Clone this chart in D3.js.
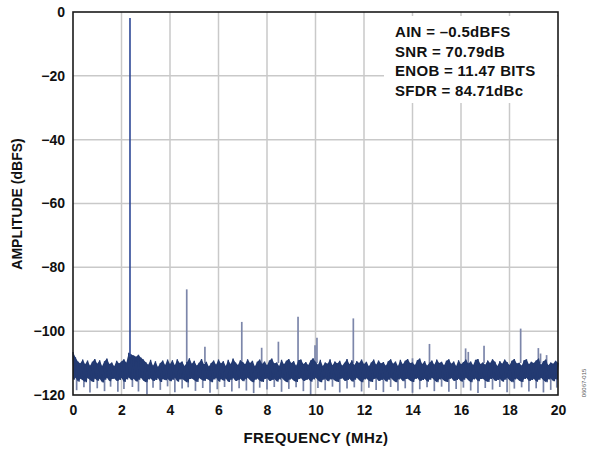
<!DOCTYPE html>
<html><head><meta charset="utf-8">
<script src="https://cdn.jsdelivr.net/npm/d3@7"></script>
<style>body{margin:0;background:#fff}svg{display:block}</style>
</head><body>
<svg id="c" width="590" height="455"></svg>
<script>
// ---------- data ----------
const xTicks = [0, 2, 4, 6, 8, 10, 12, 14, 16, 18, 20];
const yTicks = [-120, -100, -80, -60, -40, -20, 0];
const noiseStep = 0.1; // MHz between noise samples
const noiseTop = [
-106.5,-108.2,-109.5,-110.1,-108.9,-110.4,-109.2,-110.8,-109.6,-108.7,
-110.2,-109.1,-110.9,-109.4,-108.6,-110.3,-109.8,-111.0,-109.3,-110.1,
-109.5,-108.8,-109.9,-106.8,-107.3,-107.6,-108.0,-107.4,-108.3,-108.9,
-109.7,-110.5,-109.0,-110.8,-109.4,-111.2,-110.0,-109.2,-110.6,-108.9,
-110.3,-109.1,-110.7,-108.8,-110.0,-109.5,-110.9,-109.7,-108.5,-110.2,
-109.3,-110.8,-109.9,-108.7,-110.4,-109.6,-111.1,-110.0,-109.2,-110.5,
-108.9,-110.1,-109.4,-110.9,-109.0,-110.3,-108.6,-109.8,-110.6,-109.1,
-109.7,-110.4,-108.8,-110.0,-109.3,-111.0,-109.6,-108.9,-110.2,-109.5,
-110.7,-109.2,-108.6,-110.1,-109.8,-110.9,-109.0,-110.4,-109.3,-108.7,
-110.0,-109.4,-110.8,-109.1,-108.9,-110.3,-109.7,-110.6,-109.2,-108.5,
-109.6,-110.5,-109.0,-110.9,-109.8,-110.2,-108.8,-110.7,-109.5,-110.1,
-109.3,-110.8,-109.9,-108.7,-110.4,-109.1,-110.6,-109.4,-110.0,-108.9,
-110.3,-109.6,-111.0,-109.8,-108.9,-110.5,-109.2,-110.1,-109.7,-110.8,
-109.4,-108.8,-110.2,-109.5,-110.9,-109.0,-110.4,-109.3,-108.7,-110.0,
-109.8,-110.6,-109.1,-108.6,-110.3,-109.4,-110.8,-109.9,-109.2,-110.5,
-108.9,-110.0,-109.6,-110.7,-109.3,-108.8,-110.2,-109.5,-110.9,-109.1,
-110.4,-109.7,-108.9,-110.1,-109.5,-110.6,-109.0,-108.7,-110.3,-109.8,
-110.5,-109.2,-110.0,-108.8,-109.6,-110.9,-109.4,-110.2,-108.9,-109.7,
-110.6,-109.3,-108.7,-110.1,-109.9,-110.8,-109.1,-108.8,-110.4,-109.6,
-110.0,-109.2,-108.6,-110.5,-109.4,-108.9,-110.7,-109.8,-110.2,-109.3,
-109.9];
const noiseBottom = [
-115.2,-114.6,-115.8,-114.9,-115.4,-116.0,-114.7,-115.3,-115.9,-114.8,
-115.5,-114.9,-116.1,-115.2,-114.6,-115.7,-115.0,-114.8,-115.6,-115.3,
-114.7,-115.9,-115.1,-114.5,-115.4,-114.9,-115.8,-115.2,-114.6,-115.5,
-116.0,-115.1,-114.8,-115.6,-115.3,-114.7,-115.9,-115.0,-115.4,-114.9,
-115.7,-115.2,-114.6,-115.8,-115.1,-114.9,-115.5,-116.1,-115.0,-114.8,
-115.4,-115.9,-114.7,-115.2,-115.6,-114.9,-115.3,-116.0,-115.1,-114.6,
-115.8,-115.0,-115.5,-114.8,-115.9,-115.2,-114.7,-115.6,-115.3,-114.9,
-115.7,-115.1,-114.6,-115.4,-116.0,-115.2,-114.8,-115.5,-115.9,-115.0,
-114.7,-115.6,-115.3,-114.9,-115.8,-115.1,-114.6,-115.4,-116.0,-115.2,
-114.8,-115.5,-115.9,-115.0,-114.7,-115.6,-115.3,-114.9,-115.8,-115.1,
-114.6,-115.4,-116.0,-115.2,-114.8,-115.7,-115.1,-114.9,-115.5,-115.9,
-115.0,-114.7,-115.6,-115.3,-114.9,-115.8,-115.2,-114.6,-115.4,-116.0,
-115.1,-114.8,-115.5,-115.9,-115.0,-114.7,-115.6,-115.3,-114.9,-115.8,
-115.2,-114.6,-115.4,-116.0,-115.1,-114.8,-115.7,-115.0,-114.9,-115.5,
-115.9,-115.0,-114.7,-115.6,-115.3,-114.9,-115.8,-115.2,-114.6,-115.4,
-116.0,-115.1,-114.8,-115.5,-115.9,-115.0,-114.7,-115.6,-115.3,-114.9,
-115.8,-115.2,-114.6,-115.4,-116.0,-115.1,-114.8,-115.7,-115.0,-114.9,
-115.5,-115.9,-115.0,-114.7,-115.6,-115.3,-114.9,-115.8,-115.2,-114.6,
-115.4,-116.0,-115.1,-114.8,-115.5,-115.9,-115.0,-114.7,-115.6,-115.3,
-114.9,-115.8,-115.2,-114.6,-115.4,-116.0,-115.1,-114.8,-115.7,-115.0,
-115.3];
const dipFreq = [0.15,0.45,0.7,1.0,1.3,1.55,1.85,2.1,2.45,2.7,3.05,3.3,3.6,3.9,4.2,4.5,4.75,5.05,5.35,5.65,5.95,6.25,6.55,6.85,7.15,7.45,7.7,8.0,8.3,8.6,8.9,9.2,9.5,9.8,10.1,10.4,10.7,11.0,11.3,11.6,11.9,12.2,12.5,12.8,13.1,13.4,13.7,14.0,14.3,14.6,14.9,15.2,15.5,15.8,16.1,16.4,16.7,17.0,17.3,17.6,17.9,18.2,18.5,18.8,19.1,19.4,19.7,19.95];
const dipLevel = [-118.5,-117.6,-119.2,-117.9,-118.8,-117.4,-119.0,-118.1,-117.5,-118.9,-119.8,-117.7,-118.4,-117.3,-119.1,-118.0,-117.6,-118.7,-117.8,-119.3,-118.2,-117.5,-118.9,-117.9,-118.6,-119.4,-117.7,-118.3,-117.5,-119.0,-118.1,-117.6,-118.8,-119.9,-117.8,-118.5,-117.4,-119.2,-118.0,-117.6,-118.9,-117.7,-118.4,-119.1,-117.5,-118.7,-117.9,-119.3,-118.2,-117.6,-118.8,-117.4,-119.0,-118.1,-117.7,-118.6,-119.4,-117.8,-118.3,-117.5,-119.1,-118.0,-117.6,-118.9,-117.9,-119.2,-118.4,-117.7];
const spurFreq  = [4.69, 5.44, 6.96, 7.78, 8.47, 9.28, 9.98, 10.06, 11.56, 14.0, 14.70, 16.19, 16.30, 16.95, 18.46, 19.19, 19.28, 19.53];
const spurLevel = [-86.9,-104.9,-97.1,-105.2,-103.3,-95.5,-104.4,-102.1,-96.0,-108.5,-104.0,-105.4,-106.5,-104.6,-99.2,-105.3,-107.0,-107.5];
const carrierFreq = 2.35, carrierLevel = -1.9;
const annotationLines = ["AIN = \u20130.5dBFS", "SNR = 70.79dB", "ENOB = 11.47 BITS", "SFDR = 84.71dBc"];

// ---------- drawing ----------
const svg = d3.select("#c");
const L = 73, R = 558, T = 12, B = 395;
const x = d3.scaleLinear().domain([0, 20]).range([L, R]);
const y = d3.scaleLinear().domain([-120, 0]).range([B, T]);
const font = "'Liberation Sans', Arial, sans-serif";
const noiseColor = "#233a72";

// grid
const grid = svg.append("g").attr("stroke", "#c9c9c9").attr("stroke-width", 1.5);
grid.selectAll(".gx").data(xTicks.slice(1, -1)).join("line")
  .attr("x1", d => x(d)).attr("x2", d => x(d)).attr("y1", T).attr("y2", B);
grid.selectAll(".gy").data(yTicks.slice(1, -1)).join("line")
  .attr("y1", d => y(d)).attr("y2", d => y(d)).attr("x1", L).attr("x2", R);

// annotation background box (hides grid)
svg.append("rect").attr("x", 384).attr("y", 16).attr("width", 173).attr("height", 87).attr("fill", "#fff");

// spurs
svg.append("g").selectAll("line").data(spurFreq).join("line")
  .attr("x1", d => x(d)).attr("x2", d => x(d))
  .attr("y1", y(-110)).attr("y2", (d, i) => y(spurLevel[i]))
  .attr("stroke", "#7c86aa").attr("stroke-width", 1.7);

// dips
svg.append("g").selectAll("line").data(dipFreq).join("line")
  .attr("x1", d => x(d)).attr("x2", d => x(d))
  .attr("y1", y(-114.5)).attr("y2", (d, i) => y(dipLevel[i]))
  .attr("stroke", "#7582a8").attr("stroke-width", 1.7);

// noise band body
const area = d3.area()
  .x((d, i) => x(i * noiseStep))
  .y0((d, i) => y(noiseBottom[i]))
  .y1(d => y(d));
svg.append("path").datum(noiseTop).attr("d", area).attr("fill", noiseColor);

// noise band texture (zigzag between peaks and troughs)
const pts = [];
noiseTop.forEach((v, i) => {
  pts.push([i * noiseStep, v]);
  if (i < noiseTop.length - 1) pts.push([i * noiseStep + noiseStep / 2, noiseBottom[i]]);
});
svg.append("path").datum(pts)
  .attr("d", d3.line().x(d => x(d[0])).y(d => y(d[1])))
  .attr("fill", "none").attr("stroke", noiseColor).attr("stroke-width", 1.3);

// carrier
svg.append("line")
  .attr("x1", x(carrierFreq)).attr("x2", x(carrierFreq))
  .attr("y1", y(-108)).attr("y2", y(carrierLevel))
  .attr("stroke", "#2c4796").attr("stroke-width", 1.6);

// frame
svg.append("rect").attr("x", L).attr("y", T).attr("width", R - L).attr("height", B - T)
  .attr("fill", "none").attr("stroke", "#1a1a1a").attr("stroke-width", 1.6);

// axes
const fmt = d => d < 0 ? "\u2212" + Math.abs(d) : String(d);
const ya = svg.append("g").attr("transform", `translate(${L},0)`)
  .call(d3.axisLeft(y).tickValues(yTicks).tickSize(0).tickPadding(8).tickFormat(fmt));
const xa = svg.append("g").attr("transform", `translate(0,${B})`)
  .call(d3.axisBottom(x).tickValues(xTicks).tickSize(0).tickPadding(10).tickFormat(fmt));
[ya, xa].forEach(a => {
  a.select(".domain").remove();
  a.selectAll("text").attr("font-family", font).attr("font-size", 14).attr("font-weight", "bold").attr("fill", "#111");
});

// axis titles
svg.append("text").attr("x", 316).attr("y", 443).attr("text-anchor", "middle")
  .attr("font-family", font).attr("font-size", 15).attr("font-weight", "bold")
  .attr("letter-spacing", 0.4).attr("fill", "#111").text("FREQUENCY (MHz)");
svg.append("text").attr("transform", "translate(22,204) rotate(-90)").attr("text-anchor", "middle")
  .attr("font-family", font).attr("font-size", 14).attr("font-weight", "bold")
  .attr("fill", "#111").text("AMPLITUDE (dBFS)");

// annotation
svg.append("g").selectAll("text").data(annotationLines).join("text")
  .attr("x", 395).attr("y", (d, i) => 37 + i * 19.5)
  .attr("font-family", font).attr("font-size", 15).attr("font-weight", "bold")
  .attr("letter-spacing", 0.3).attr("fill", "#111").text(d => d);

// figure code
svg.append("text").attr("transform", "translate(586,383) rotate(-90)").attr("text-anchor", "middle")
  .attr("font-family", font).attr("font-size", 6).attr("fill", "#555").text("06067-015");
</script>
</body></html>
